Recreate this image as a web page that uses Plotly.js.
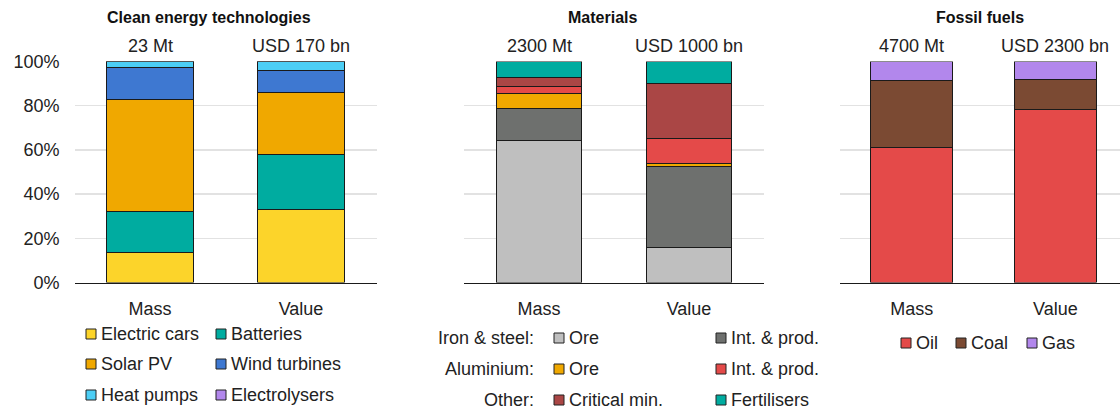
<!DOCTYPE html>
<html><head><meta charset="utf-8">
<script src="https://cdn.plot.ly/plotly-3.0.1.min.js"></script>
<style>html,body{margin:0;padding:0;background:#fff}#chart{width:1120px;height:410px}</style>
</head><body><div id="chart"></div><script>
// ---------- DATA ----------
const categories = ['Mass', 'Value'];

// Clean energy technologies (% share)
const cleanTitle = 'Clean energy technologies';
const cleanTotals = ['23 Mt', 'USD 170 bn'];
const cleanNames = ['Electric cars', 'Batteries', 'Solar PV', 'Wind turbines', 'Heat pumps', 'Electrolysers'];
const electricCars = [13.7, 33.2];
const batteries = [18.4, 24.6];
const solarPV = [50.7, 28.2];
const windTurbines = [14.7, 9.8];
const heatPumps = [2.4, 4.0];
const electrolysers = [0.1, 0.2];

// Materials (% share)
const matTitle = 'Materials';
const matTotals = ['2300 Mt', 'USD 1000 bn'];
const matNames = ['Ore', 'Int. & prod.', 'Ore', 'Int. & prod.', 'Critical min.', 'Fertilisers'];
const matGroups = ['Iron & steel:', 'Aluminium:', 'Other:'];
const ironOre = [64.1, 15.8];
const ironIntProd = [14.5, 36.6];
const aluOre = [6.8, 1.3];
const aluIntProd = [3.4, 11.5];
const criticalMin = [3.8, 24.8];
const fertilisers = [7.4, 10.0];

// Fossil fuels (% share)
const fossilTitle = 'Fossil fuels';
const fossilTotals = ['4700 Mt', 'USD 2300 bn'];
const fossilNames = ['Oil', 'Coal', 'Gas'];
const oil = [61.2, 78.3];
const coal = [30.2, 13.6];
const gas = [8.6, 8.1];

const yTicks = [0, 20, 40, 60, 80, 100];
const yTickLabels = ['0%', '20%', '40%', '60%', '80%', '100%'];

// ---------- STYLE ----------
const cleanColors = ['#FCD42A', '#00ACA0', '#F0A800', '#3E78D1', '#4CCEF5', '#B287EC'];
const matColors = ['#BFBFBF', '#6E706E', '#F0A800', '#E44A49', '#AA4645', '#00ACA0'];
const fossilColors = ['#E44A49', '#7B4A33', '#B287EC'];
const FONT = 'Liberation Sans, Arial, sans-serif';
const FS = 18;
const W = 1120, H = 410;
const px = x => x / W;
const py = y => 1 - y / H;

const cleanSeries = [electricCars, batteries, solarPV, windTurbines, heatPumps, electrolysers];
const matSeries = [ironOre, ironIntProd, aluOre, aluIntProd, criticalMin, fertilisers];
const fossilSeries = [oil, coal, gas];

const traces = [];
function addPanel(series, names, colors, xa, ya) {
  series.forEach((vals, i) => {
    traces.push({
      type: 'bar', x: categories, y: vals, name: names[i],
      xaxis: xa, yaxis: ya, width: 0.57,
      marker: {color: colors[i], line: {color: '#1a1a1a', width: 1}},
      showlegend: false, hoverinfo: 'name+y'
    });
  });
}
addPanel(cleanSeries, cleanNames, cleanColors, 'x', 'y');
addPanel(matSeries, matNames, matColors, 'x2', 'y2');
addPanel(fossilSeries, fossilNames, fossilColors, 'x3', 'y3');

const yDomain = [py(282.5), py(61.5)];
function yAxis(showLabels, anchor) {
  return {
    domain: yDomain, range: [0, 100], tickmode: 'array', tickvals: yTicks, ticktext: yTickLabels,
    showticklabels: showLabels, gridcolor: '#e2e2e2', gridwidth: 1.3,
    zeroline: false, showline: false, ticks: '', anchor: anchor,
    ticklabelstandoff: 14,
    tickfont: {family: FONT, size: FS, color: '#222'}, fixedrange: true
  };
}
function xAxis(domain, range, anchor) {
  return {
    domain: domain, range: range, type: 'category', anchor: anchor,
    showline: true, linecolor: '#1a1a1a', linewidth: 1.5, ticks: '',
    showgrid: false, ticklabelstandoff: 9,
    tickfont: {family: FONT, size: FS, color: '#222'}, fixedrange: true
  };
}

const annotations = [];
const shapes = [];
function txt(x, y, text, opts) {
  annotations.push(Object.assign({
    xref: 'paper', yref: 'paper', x: x, y: y, text: text, showarrow: false,
    xanchor: 'center', yanchor: 'middle',
    font: {family: FONT, size: FS, color: '#222'}
  }, opts || {}));
}
// titles
const TF = {family: FONT, size: 16, color: '#111'};
txt(px(209), py(17), '<b>' + cleanTitle + '</b>', {font: TF});
txt(px(602), py(17), '<b>' + matTitle + '</b>', {font: TF});
txt(px(980), py(17), '<b>' + fossilTitle + '</b>', {font: TF});
// totals above bars
function totals(labels, xa) {
  labels.forEach((t, i) => {
    annotations.push({xref: xa, yref: 'paper', x: categories[i], y: py(46), text: t,
      showarrow: false, xanchor: 'center', yanchor: 'middle',
      font: {family: FONT, size: FS, color: '#222'}});
  });
}
totals(cleanTotals, 'x');
totals(matTotals, 'x2');
totals(fossilTotals, 'x3');

// legends
function swatch(xl, yc, color, label) {
  shapes.push({type: 'rect', xref: 'paper', yref: 'paper',
    x0: px(xl), x1: px(xl + 10), y0: py(yc + 5), y1: py(yc - 5),
    fillcolor: color, line: {color: '#222', width: 1}});
  txt(px(xl + 13), py(yc), label, {xanchor: 'left'});
}
const cleanCols = [86, 216], cleanRows = [334, 364, 395];
cleanNames.forEach((n, i) => swatch(cleanCols[i % 2], cleanRows[Math.floor(i / 2)], cleanColors[i], n));
const matCols = [554, 716], matRows = [338, 369, 400];
matGroups.forEach((g, r) => txt(px(536), py(matRows[r]), g, {xanchor: 'right'}));
matNames.forEach((n, i) => swatch(matCols[i % 2], matRows[Math.floor(i / 2)], matColors[i], n));
const fossilCols = [901, 956, 1027];
fossilNames.forEach((n, i) => swatch(fossilCols[i], 343, fossilColors[i], n));

const layout = {
  width: W, height: H, margin: {l: 0, r: 0, t: 0, b: 0},
  paper_bgcolor: '#fff', plot_bgcolor: '#fff', barmode: 'stack',
  showlegend: false, font: {family: FONT, size: FS, color: '#222'},
  xaxis: xAxis([px(74.5), px(376.5)], [-0.5, 1.5], 'y'),
  yaxis: yAxis(true, 'x'),
  xaxis2: xAxis([px(464), px(764)], [-0.5, 1.5], 'y2'),
  yaxis2: yAxis(false, 'x2'),
  xaxis3: xAxis([px(840), 1], [-0.5, 1.45], 'y3'),
  yaxis3: yAxis(false, 'x3'),
  annotations: annotations, shapes: shapes
};
Plotly.newPlot('chart', traces, layout, {displayModeBar: false, staticPlot: true});
</script></body></html>
